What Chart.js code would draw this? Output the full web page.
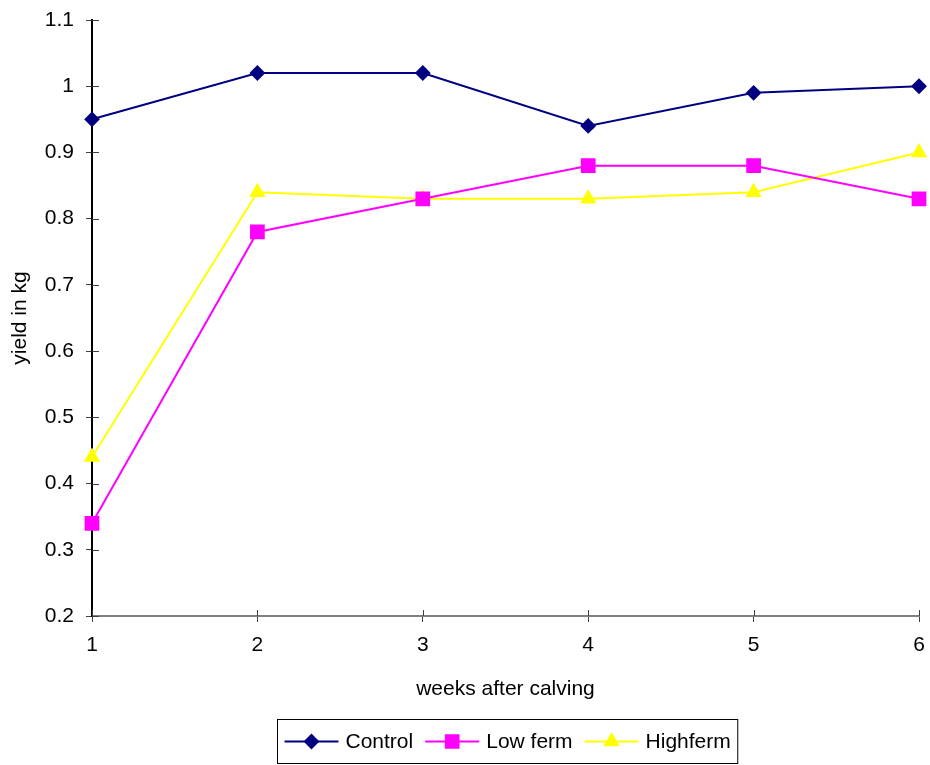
<!DOCTYPE html>
<html lang="en">
<head>
    <meta charset="UTF-8">
    <title>Yield in kg</title>
    <script src="https://cdn.jsdelivr.net/npm/chart.js"></script>
    <style>
        html, body { margin: 0; padding: 0; background: #fff; }
        #wrap { width: 930px; height: 765px; }
    </style>
</head>
<body>
    <div id="wrap"><canvas id="chart" width="930" height="765"></canvas></div>

    <script>
        // data
        const weeks = ['1', '2', '3', '4', '5', '6'];
        const control = [0.95, 1.02, 1.02, 0.94, 0.99, 1.00];
        const lowFerm = [0.34, 0.78, 0.83, 0.88, 0.88, 0.83];
        const highFerm = [0.44, 0.84, 0.83, 0.83, 0.84, 0.90];

        const FONT = 'Liberation Sans, Arial, sans-serif';
        const FS = 21;

        // small tick marks on the inner side of both axes
        const innerTicks = {
            id: 'innerTicks',
            afterDatasetsDraw(chart) {
                const ctx = chart.ctx;
                const x = chart.scales.x, y = chart.scales.y;
                ctx.save();
                ctx.strokeStyle = '#404040';
                ctx.lineWidth = 1;
                ctx.beginPath();
                y.ticks.forEach((t, i) => {
                    const py = Math.round(y.getPixelForTick(i)) + 0.5;
                    ctx.moveTo(y.right, py);
                    ctx.lineTo(y.right + 7, py);
                });
                x.ticks.forEach((t, i) => {
                    const px = Math.round(x.getPixelForTick(i)) + 0.5;
                    ctx.moveTo(px, x.top);
                    ctx.lineTo(px, x.top - 6);
                });
                ctx.stroke();
                ctx.restore();
            }
        };

        // boxed legend with line + marker like the original
        const boxLegend = {
            id: 'boxLegend',
            afterDraw(chart) {
                const ctx = chart.ctx;
                const area = chart.chartArea;
                ctx.save();
                ctx.font = FS + 'px ' + FONT;
                const lineLen = 54, gap = 7, itemGap = 12, padX = 7;
                const items = chart.data.datasets.map(ds => ({ ds, w: ctx.measureText(ds.label).width }));
                let total = padX * 2;
                items.forEach((it, i) => { total += lineLen + gap + it.w + (i ? itemGap : 0); });
                const cx = (area.left + area.right) / 2 + 2;
                const left = Math.round(cx - total / 2) + 0.5;
                const top = 719.5, h = 44;
                ctx.strokeStyle = '#000';
                ctx.lineWidth = 1;
                ctx.strokeRect(left, top, total, h);
                const my = top + h / 2;
                let px = left + padX;
                items.forEach((it, i) => {
                    if (i) px += itemGap;
                    const ds = it.ds;
                    ctx.strokeStyle = ds.borderColor;
                    ctx.lineWidth = ds.borderWidth;
                    ctx.beginPath();
                    ctx.moveTo(px, my);
                    ctx.lineTo(px + lineLen, my);
                    ctx.stroke();
                    ctx.fillStyle = ds.pointBackgroundColor;
                    Chart.helpers.drawPoint(ctx, {
                        pointStyle: ds.pointStyle,
                        radius: ds.pointRadius,
                        rotation: 0,
                        borderWidth: 1
                    }, px + lineLen / 2, my);
                    px += lineLen + gap;
                    ctx.fillStyle = '#000';
                    ctx.textBaseline = 'middle';
                    ctx.fillText(ds.label, px, my + 1);
                    px += it.w;
                });
                ctx.restore();
            }
        };

        new Chart(document.getElementById('chart').getContext('2d'), {
            type: 'line',
            data: {
                labels: weeks,
                datasets: [
                    {
                        label: 'Control',
                        data: control,
                        borderColor: '#000080',
                        backgroundColor: '#000080',
                        pointBackgroundColor: '#000080',
                        pointBorderColor: '#000080',
                        borderWidth: 2,
                        pointStyle: 'rectRot',
                        pointRadius: 6.5,
                        tension: 0
                    },
                    {
                        label: 'Low ferm',
                        data: lowFerm,
                        borderColor: '#FF00FF',
                        backgroundColor: '#FF00FF',
                        pointBackgroundColor: '#FF00FF',
                        pointBorderColor: '#FF00FF',
                        borderWidth: 2,
                        pointStyle: 'rect',
                        pointRadius: 9,
                        tension: 0
                    },
                    {
                        label: 'Highferm',
                        data: highFerm,
                        borderColor: '#FFFF00',
                        backgroundColor: '#FFFF00',
                        pointBackgroundColor: '#FFFF00',
                        pointBorderColor: '#FFFF00',
                        borderWidth: 2,
                        pointStyle: 'triangle',
                        pointRadius: 7.5,
                        tension: 0
                    }
                ]
            },
            options: {
                responsive: false,
                animation: false,
                layout: { padding: { top: 20, right: 11, left: 0, bottom: 0 } },
                plugins: {
                    legend: { display: false },
                    tooltip: { enabled: false }
                },
                scales: {
                    x: {
                        offset: false,
                        afterFit(scale) {
                            scale.height = 149;
                            scale.paddingLeft = 0;
                            scale.paddingRight = 0;
                        },
                        border: { color: '#808080', width: 2 },
                        grid: { display: true, drawOnChartArea: false, drawTicks: true, tickLength: 6, color: '#404040' },
                        ticks: { color: '#000', padding: 11, maxRotation: 0, font: { family: FONT, size: FS } },
                        title: {
                            display: true,
                            text: 'weeks after calving',
                            color: '#000',
                            font: { family: FONT, size: FS },
                            padding: { top: 0, bottom: 63 }
                        }
                    },
                    y: {
                        min: 0.2,
                        max: 1.1,
                        afterFit(scale) {
                            scale.width = 92;
                            scale.paddingTop = 0;
                            scale.paddingBottom = 0;
                        },
                        border: { color: '#000', width: 2 },
                        grid: { display: true, drawOnChartArea: false, drawTicks: true, tickLength: 6, color: '#404040' },
                        ticks: {
                            stepSize: 0.1,
                            color: '#000',
                            padding: 12,
                            font: { family: FONT, size: FS },
                            callback: v => String(parseFloat(v.toFixed(1)))
                        },
                        title: {
                            display: true,
                            text: 'yield in kg',
                            color: '#000',
                            font: { family: FONT, size: FS },
                            padding: { top: 8, bottom: 0 }
                        }
                    }
                }
            },
            plugins: [innerTicks, boxLegend]
        });
    </script>
</body>
</html>
